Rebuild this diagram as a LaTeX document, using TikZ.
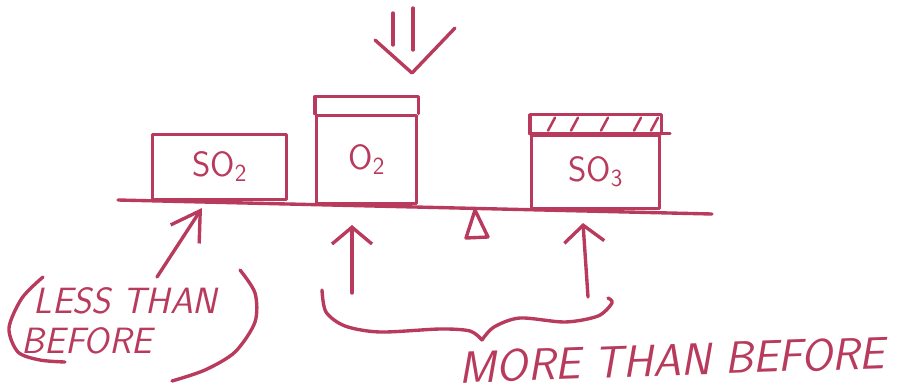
\documentclass[tikz,border=0pt]{standalone}
\usepackage{xcolor}
\usepackage{tikz}
\usetikzlibrary{arrows.meta}
\definecolor{inkred}{HTML}{B83A5C}

\begin{document}
\begin{tikzpicture}[x=0.025cm, y=-0.025cm, inkred, line width=2.4pt, line cap=round, line join=round,
  every node/.style={font=\sffamily\slshape\fontsize{26}{28.5}\selectfont, text=inkred, inner sep=0pt},
  box/.style={draw, anchor=south west, font=\sffamily\fontsize{25}{28}\selectfont},
  uparrow/.style={-{Straight Barb[length=0.42cm, width=1cm]}}]
  \useasboundingbox (0,0) rectangle (924,390);

  \node (so2) at (151,201) [box, minimum width=3.35cm, minimum height=1.625cm] {SO\textsubscript{2}};
  \node (o2) at (315,205) [box, minimum width=2.5cm, minimum height=2.2cm] {O\textsubscript{2}};
  \node (so3) at (530,210) [box, minimum width=3.2cm, minimum height=1.825cm] {SO\textsubscript{3}};
  \draw (o2.north west) -- ++(0,-17) -| (o2.north east);
  \draw (so3.north west) -- ++(0,-19) -| (so3.north east);
  \draw (so3.north west) -- ++(140,0);
  \foreach \hx in {18,41,71,104,121}
    \draw[line width=1.8pt] (so3.north west) ++(\hx,-3) -- ++(7,-13);

  \coordinate (beamL) at (118,200);
  \coordinate (beamR) at (712,214);
  \draw (beamL) -- (beamR);
  \draw (475,210) -- (466,238) -- (488,237) -- cycle;

  \coordinate (pushTip) at (412,73);
  \draw (pushTip) ++(-37,-33) -- (pushTip) -- ++(43,-45);
  \draw (pushTip) ++(-19,-28) -- ++(0,-32);
  \draw (pushTip) ++(1,-23) -- ++(0,-42);

  \node (less) at (20,286) [anchor=north west, align=left] {\hspace*{0.3cm}LESS THAN\\BEFORE};
  \draw plot[smooth] coordinates {(43,277) (22,298) (9,328) (18,352) (40,360) (65,362)};
  \draw plot[smooth] coordinates {(240,270) (255,293) (255,322) (235,352) (205,370) (172,381)};
  \coordinate (lessFrom) at (157,277);
  \coordinate (lessTip) at (202,208);
  \draw[-{Straight Barb[length=0.7cm, width=0.85cm]}] (lessFrom) -- (lessTip);

  \coordinate (o2From) at (352,293);
  \coordinate (o2Tip) at (352,225);
  \coordinate (so3From) at (588,297);
  \coordinate (so3Tip) at (583,223);
  \draw[uparrow] (o2From) -- (o2Tip);
  \draw[uparrow] (so3From) -- (so3Tip);
  \draw plot[smooth] coordinates {(322,290) (326,312) (345,326) (380,332) (440,329) (470,331) (482,340)};
  \draw plot[smooth] coordinates {(482,340) (494,327) (520,318) (565,322) (598,316) (612,303) (608,298)};
  \node (more) at (672,360) [rotate=2, font=\sffamily\slshape\fontsize{32}{34}\selectfont] {MORE THAN BEFORE};
\end{tikzpicture}
\end{document}
